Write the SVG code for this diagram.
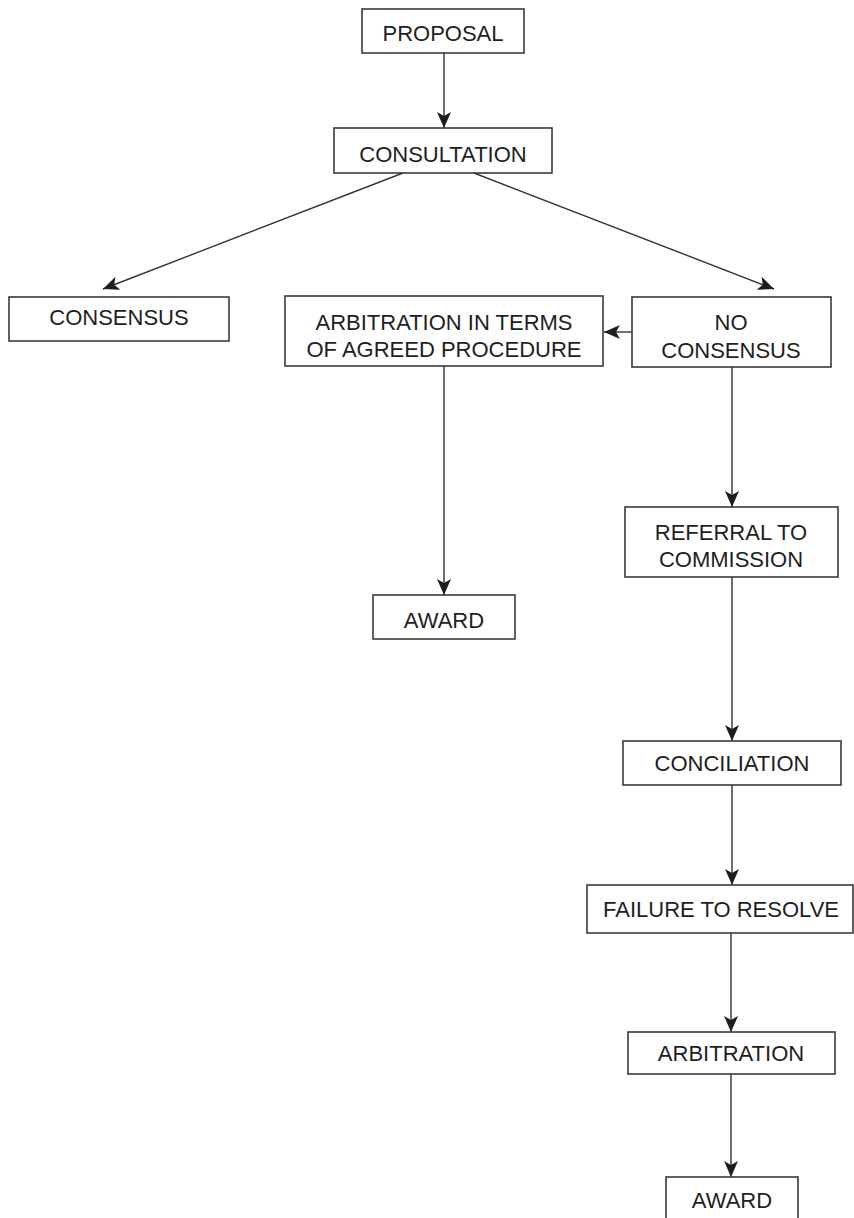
<svg xmlns="http://www.w3.org/2000/svg" width="854" height="1218" viewBox="0 0 854 1218">
<style>
.box{fill:#fff;stroke:#3a3a3a;stroke-width:1.6}
.t{font-family:"Liberation Sans",Arial,sans-serif;font-size:22px;fill:#1e1e1e;text-anchor:middle}
.c{stroke:#333;stroke-width:1.4;fill:none;marker-end:url(#ah)}
</style>
<defs>
<marker id="ah" markerUnits="userSpaceOnUse" markerWidth="16" markerHeight="14" refX="16" refY="7" orient="auto">
<path d="M0,0 L16,7 L0,14 L4,7 z" fill="#1e1e1e"/>
</marker>
</defs>
<rect width="854" height="1218" fill="#fff"/>
<g id="connectors">
<line class="c" x1="444" y1="53" x2="444" y2="128"/>
<line class="c" x1="403" y1="173" x2="103" y2="289"/>
<line class="c" x1="474" y1="173" x2="774" y2="289"/>
<line class="c" x1="632" y1="332" x2="604" y2="332"/>
<line class="c" x1="444" y1="366" x2="444" y2="595"/>
<line class="c" x1="732" y1="367" x2="732" y2="507"/>
<line class="c" x1="732" y1="577" x2="732" y2="741"/>
<line class="c" x1="732" y1="785" x2="732" y2="885"/>
<line class="c" x1="731" y1="933" x2="731" y2="1032"/>
<line class="c" x1="731" y1="1074" x2="731" y2="1177"/>
</g>
<g id="proposal"><rect class="box" x="362" y="9" width="162" height="44"/><text class="t" x="443" y="41">PROPOSAL</text></g>
<g id="consultation"><rect class="box" x="334" y="128" width="218" height="45"/><text class="t" x="443" y="162">CONSULTATION</text></g>
<g id="consensus"><rect class="box" x="9" y="297" width="220" height="44"/><text class="t" x="119" y="325">CONSENSUS</text></g>
<g id="arb-agreed"><rect class="box" x="285" y="296" width="318" height="70"/><text class="t" x="444" y="330">ARBITRATION IN TERMS</text><text class="t" x="444" y="357">OF AGREED PROCEDURE</text></g>
<g id="no-consensus"><rect class="box" x="632" y="297" width="199" height="70"/><text class="t" x="731" y="330">NO</text><text class="t" x="731" y="358">CONSENSUS</text></g>
<g id="award1"><rect class="box" x="373" y="595" width="142" height="44"/><text class="t" x="444" y="628">AWARD</text></g>
<g id="referral"><rect class="box" x="625" y="507" width="213" height="70"/><text class="t" x="731" y="540">REFERRAL TO</text><text class="t" x="731" y="567">COMMISSION</text></g>
<g id="conciliation"><rect class="box" x="623" y="741" width="218" height="44"/><text class="t" x="732" y="771">CONCILIATION</text></g>
<g id="failure"><rect class="box" x="587" y="885" width="266" height="48"/><text class="t" x="721" y="917">FAILURE TO RESOLVE</text></g>
<g id="arbitration"><rect class="box" x="628" y="1032" width="207" height="42"/><text class="t" x="731" y="1061">ARBITRATION</text></g>
<g id="award2"><rect class="box" x="666" y="1177" width="132" height="46"/><text class="t" x="732" y="1208">AWARD</text></g>
</svg>
